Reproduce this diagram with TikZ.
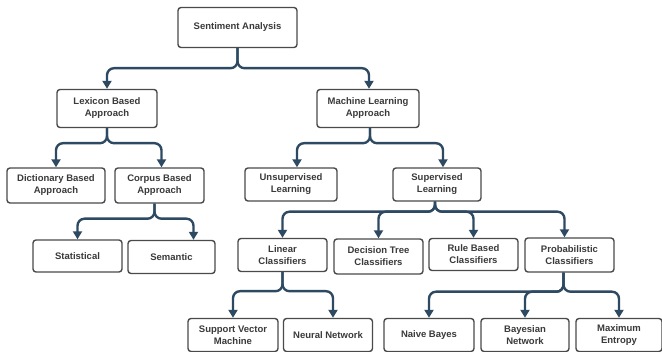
\documentclass[tikz,border=0pt]{standalone}
\usepackage{fontspec}
\setmainfont{Liberation Sans}
\usetikzlibrary{arrows.meta}
\definecolor{conncol}{HTML}{2E4A62}
\definecolor{boxline}{HTML}{4A4A4A}
\definecolor{txtcol}{HTML}{3A3A3A}
\tikzset{
  box/.style={draw=boxline, line width=1.4pt, rounded corners=3pt, fill=white,
    align=center, inner sep=1pt, font=\fontsize{9.5}{12}\selectfont\bfseries, text=txtcol},
  conn/.style={draw=conncol, line width=2.4pt, rounded corners=7pt,
    -{Triangle[length=8pt,width=9pt]}},
}
\begin{document}
\begin{tikzpicture}[x=1pt,y=1pt]
\useasboundingbox (0,0) rectangle (662,-352);
% level 0
\node[box, minimum width=119, minimum height=40] (sa) at (237.5,-27.5) {Sentiment Analysis};
% level 1
\node[box, minimum width=100, minimum height=38] (lex) at (107,-108.5) {Lexicon Based\\Approach};
\node[box, minimum width=102, minimum height=38] (ml) at (368,-108.5) {Machine Learning\\Approach};
% level 2
\node[box, minimum width=98, minimum height=35] (dict) at (56,-185.5) {Dictionary Based\\Approach};
\node[box, minimum width=89, minimum height=35] (corp) at (159.5,-185.5) {Corpus Based\\Approach};
\node[box, minimum width=92, minimum height=33] (unsup) at (291,-184.5) {Unsupervised\\Learning};
\node[box, minimum width=88, minimum height=33] (sup) at (437,-184.5) {Supervised\\Learning};
% level 3
\node[box, minimum width=89, minimum height=32] (stat) at (77.5,-256) {Statistical};
\node[box, minimum width=87, minimum height=33] (sem) at (171.5,-257) {Semantic};
\node[box, minimum width=89, minimum height=33] (lin) at (282.5,-255) {Linear\\Classifiers};
\node[box, minimum width=89, minimum height=35] (dt) at (378.5,-256.5) {Decision Tree\\Classifiers};
\node[box, minimum width=89, minimum height=32] (rb) at (473.5,-254.5) {Rule Based\\Classifiers};
\node[box, minimum width=89, minimum height=34] (prob) at (569.5,-255) {Probabilistic\\Classifiers};
% level 4
\node[box, minimum width=90, minimum height=33] (svm) at (233,-335) {Support Vector\\Machine};
\node[box, minimum width=89, minimum height=33] (nn) at (328,-335) {Neural Network};
\node[box, minimum width=90, minimum height=33] (nb) at (429,-335) {Naive Bayes};
\node[box, minimum width=88, minimum height=33] (bn) at (525,-335) {Bayesian\\Network};
\node[box, minimum width=86, minimum height=33] (me) at (619,-335) {Maximum\\Entropy};
% connectors
\draw[conn] (sa.south) -- ++(0,-20) -| (lex.north);
\draw[conn] (sa.south) -- ++(0,-20) -| ([xshift=1]ml.north);
\draw[conn] (lex.south) -- ++(0,-15) -| (dict.north);
\draw[conn] (lex.south) -- ++(0,-15) -| ([xshift=2]corp.north);
\draw[conn] ([xshift=2]ml.south) -- ++(0,-15) -| ([xshift=6]unsup.north);
\draw[conn] ([xshift=2]ml.south) -- ++(0,-15) -| ([xshift=6]sup.north);
\draw[conn] ([xshift=-5]corp.south) -- ++(0,-15) -| (stat.north);
\draw[conn] ([xshift=-5]corp.south) -- ++(0,-15) -| ([xshift=22]sem.north);
\draw[conn] ([xshift=-2]sup.south) -- ++(0,-10) -| (lin.north);
\draw[conn] ([xshift=-2]sup.south) -- ++(0,-10) -| (dt.north);
\draw[conn] ([xshift=-2]sup.south) -- ++(0,-10) -| (rb.north);
\draw[conn] ([xshift=-2]sup.south) -- ++(0,-10) -| ([xshift=-5]prob.north);
\draw[conn] (lin.south) -- ++(0,-19) -| (svm.north);
\draw[conn] (lin.south) -- ++(0,-19) -| ([xshift=5]nn.north);
\draw[conn] ([xshift=-6]prob.south) -- ++(0,-19) -| (nb.north);
\draw[conn] ([xshift=-6]prob.south) -- ++(0,-19) -| (bn.north);
\draw[conn] ([xshift=-6]prob.south) -- ++(0,-19) -| (me.north);
\end{tikzpicture}
\end{document}
